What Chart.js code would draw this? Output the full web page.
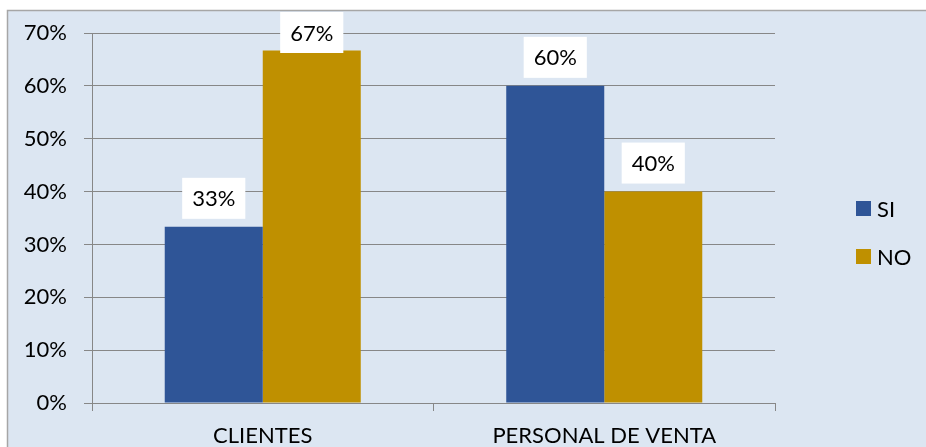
<!DOCTYPE html>
<html>
<head>
<meta charset="utf-8">
<script src="https://cdn.jsdelivr.net/npm/chart.js@4.4.0/dist/chart.umd.min.js"></script>
<style>
  html, body { margin: 0; padding: 0; background: #ffffff; }
  #wrap { position: relative; width: 926px; height: 447px; }
</style>
</head>
<body>
<div id="wrap"><canvas id="c" width="926" height="447"></canvas></div>
<script>
const categories = ["CLIENTES", "PERSONAL DE VENTA"];
const seriesNames = ["SI", "NO"];
const siValues = [33.33, 60];
const noValues = [66.67, 40];
const yTicks = [0, 10, 20, 30, 40, 50, 60, 70];

const FONT = "Lato, 'Open Sans', 'Liberation Sans', sans-serif";
const BG = "#dce6f2";
const GRID = "#878787";

const framePlugin = {
  id: "frame",
  beforeDraw(chart) {
    const ctx = chart.ctx;
    ctx.save();
    ctx.fillStyle = "#ffffff";
    ctx.fillRect(0, 0, chart.width, chart.height);
    ctx.fillStyle = BG;
    ctx.fillRect(7, 10, chart.width, chart.height);
    ctx.strokeStyle = "#a6a6a6";
    ctx.lineWidth = 1.5;
    ctx.strokeRect(7.5, 10.5, chart.width + 10, chart.height + 10);
    ctx.restore();
  }
};

const labelPlugin = {
  id: "valueLabels",
  afterDatasetsDraw(chart) {
    const ctx = chart.ctx;
    ctx.save();
    ctx.font = "22px " + FONT;
    ctx.textAlign = "center";
    ctx.textBaseline = "middle";
    chart.data.datasets.forEach((ds, di) => {
      const meta = chart.getDatasetMeta(di);
      meta.data.forEach((bar, i) => {
        const txt = Math.round(ds.data[i]) + "%";
        const w = ctx.measureText(txt).width + 20;
        const h = 41;
        let bottom = bar.y - 8;
        let top = bottom - h;
        if (top < 12) { top = 12; }
        ctx.fillStyle = "#ffffff";
        ctx.fillRect(bar.x - w / 2, top, w, h);
        ctx.fillStyle = "#000000";
        ctx.fillText(txt, bar.x, top + h / 2 + 1);
      });
    });
    ctx.restore();
  }
};

const legendPlugin = {
  id: "customLegend",
  afterDraw(chart) {
    const ctx = chart.ctx;
    ctx.save();
    ctx.font = "22px " + FONT;
    ctx.textAlign = "left";
    ctx.textBaseline = "middle";
    const ys = [208.5, 256.5];
    chart.data.datasets.forEach((ds, di) => {
      ctx.fillStyle = ds.backgroundColor;
      ctx.fillRect(856, ys[di] - 7.5, 15, 15);
      ctx.fillStyle = "#000000";
      ctx.fillText(ds.label, 877, ys[di] + 1);
    });
    ctx.restore();
  }
};

new Chart(document.getElementById("c"), {
  type: "bar",
  data: {
    labels: categories,
    datasets: [
      { label: seriesNames[0], data: siValues, backgroundColor: "#2f5597", borderWidth: 0 },
      { label: seriesNames[1], data: noValues, backgroundColor: "#bf9000", borderWidth: 0 }
    ]
  },
  options: {
    responsive: false,
    animation: false,
    devicePixelRatio: 1,
    categoryPercentage: 0.574,
    barPercentage: 1.0,
    layout: { padding: { left: 0, right: 151, top: 33, bottom: 0 } },
    plugins: {
      legend: { display: false },
      tooltip: { enabled: false }
    },
    scales: {
      x: {
        grid: { display: true, drawOnChartArea: false, drawTicks: true, tickLength: 8, color: GRID, offset: true },
        border: { display: true, color: GRID, width: 1 },
        ticks: { color: "#000000", font: { family: FONT, size: 22 }, padding: 12, maxRotation: 0 },
        afterFit(scale) { scale.height = 44; }
      },
      y: {
        min: 0, max: 70,
        afterBuildTicks(scale) { scale.ticks = yTicks.map(v => ({ value: v })); },
        grid: { color: GRID, lineWidth: 1, drawTicks: true, tickLength: 8 },
        border: { display: true, color: GRID, width: 1 },
        ticks: {
          color: "#000000",
          font: { family: FONT, size: 22 },
          padding: 17,
          callback: v => v + "%"
        },
        afterFit(scale) { scale.width = 92; }
      }
    }
  },
  plugins: [framePlugin, labelPlugin, legendPlugin]
});
</script>
</body>
</html>
